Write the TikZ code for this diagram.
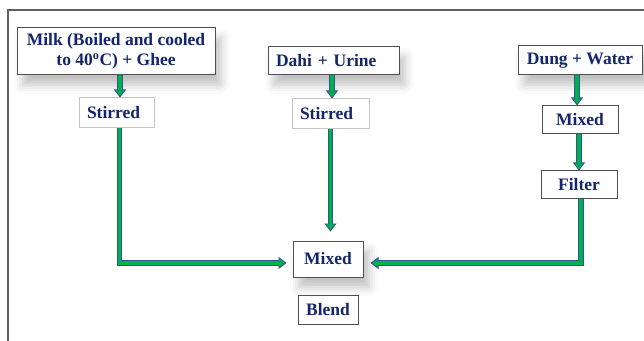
\documentclass[tikz,border=0pt]{standalone}
\usepackage{fontspec}
\setmainfont{Liberation Serif}[BoldFont={Liberation Serif Bold}]
\usetikzlibrary{arrows.meta,shadows.blur}

\definecolor{labelblue}{HTML}{14256B}
\definecolor{flowgreen}{HTML}{00B050}
\definecolor{flowedge}{HTML}{34568F}
\definecolor{boxdark}{HTML}{505050}
\definecolor{boxlight}{HTML}{C4C4C4}
\definecolor{framegrey}{HTML}{5E5E5E}

\begin{document}
\begin{tikzpicture}[x=1pt,y=1pt,
  lbl/.style={font=\rmfamily\bfseries\fontsize{17.5}{20.5}\selectfont, text=labelblue,
              inner sep=0pt, align=center, fill=white, line width=1pt},
  darkbox/.style={lbl, draw=boxdark},
  lightbox/.style={lbl, draw=boxlight},
  softshadow/.style={blur shadow={shadow xshift=6pt, shadow yshift=-10pt,
              shadow blur radius=9pt, shadow opacity=25}},
  flow/.style={line width=5.4pt, draw=flowedge,
              -{Triangle[width=12pt,length=8pt,fill=flowgreen,line width=0.9pt]},
              postaction={draw=flowgreen, line width=3.6pt, -, shorten >=7pt}},
]
\useasboundingbox (0,0) rectangle (644,340);

% outer frame (top and left edges)
\draw[framegrey, line width=2pt] (8,-5) -- (8,330) -- (650,330);

% source boxes
\node[darkbox, softshadow, minimum width=198pt, minimum height=47pt] (milk) at (116,288.5)
  {Milk (Boiled and cooled\\to 40\textsuperscript{o}C) + Ghee};
\node[darkbox, softshadow, minimum height=28pt, text width=115pt, align=left, inner xsep=8pt] (dahi) at (333.5,279)
  {Dahi + Urine};
\node[darkbox, softshadow, minimum width=124pt, minimum height=29pt] (dung) at (580,279.5)
  {Dung + Water};

% intermediate steps
\node[lightbox, minimum height=30pt, text width=59pt, align=left, inner xsep=8pt] (st1) at (116.5,227) {Stirred};
\node[lightbox, minimum height=30pt, text width=61pt, align=left, inner xsep=8pt] (st2) at (330.5,226) {Stirred};
\node[darkbox, minimum width=76pt, minimum height=28pt] (mix2) at (580,220) {Mixed};
\node[darkbox, minimum width=76pt, minimum height=28pt] (filter) at (579,155) {Filter};

% final steps
\node[darkbox, softshadow, minimum width=70pt, minimum height=36pt] (mix) at (328,81) {Mixed};
\node[darkbox, minimum width=60pt, minimum height=29pt] (blend) at (328,30.5) {Blend};

% connectors
\draw[flow] ([xshift=4pt]milk.south) -- ([xshift=4pt]milk.south |- st1.north);
\draw[flow] ([xshift=-1.5pt]dahi.south) -- ([xshift=-1.5pt]dahi.south |- st2.north);
\draw[flow] ([xshift=-3pt]dung.south) -- ([xshift=-3pt]dung.south |- mix2.north);
\draw[flow] ([xshift=-1pt]mix2.south) -- ([xshift=-1pt]mix2.south |- filter.north);

\draw[flow] ([xshift=3pt]st1.south) |- ([shift={(-6pt,-4pt)}]mix.west);
\draw[flow] (st2.south) -- ([yshift=9pt]st2.south |- mix.north);
\draw[flow] ([xshift=2pt]filter.south) |- ([shift={(7pt,-4pt)}]mix.east);
\end{tikzpicture}
\end{document}
